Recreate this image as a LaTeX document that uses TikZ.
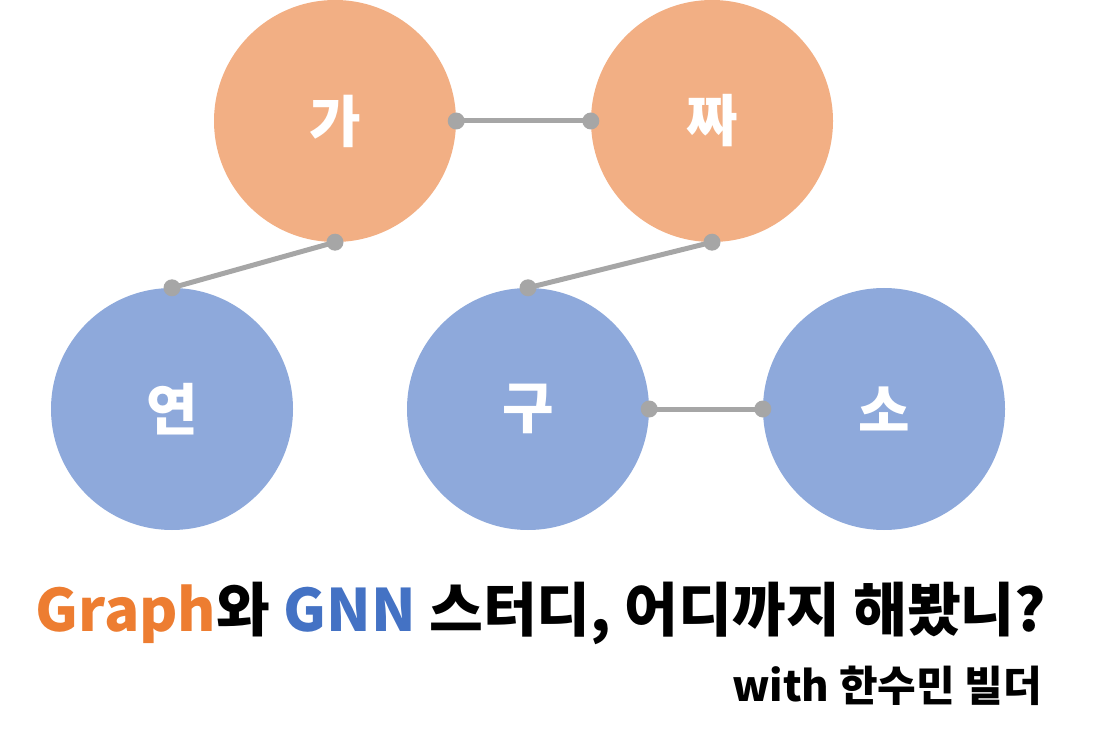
\documentclass[tikz,border=0pt]{standalone}
\usepackage{fontspec}
\setmainfont{Noto Sans CJK KR}
\usepackage{xcolor}
\usepackage{tikz}
\usetikzlibrary{calc}

\definecolor{peach}{HTML}{F2AF84}
\definecolor{skyblue}{HTML}{8EA9DB}
\definecolor{linegray}{HTML}{A6A6A6}
\definecolor{txtorange}{HTML}{ED7D31}
\definecolor{txtblue}{HTML}{4472C4}

\begin{document}
\begin{tikzpicture}[x=1pt,y=-1pt,
	vtx/.style={circle,minimum size=242pt,inner sep=0pt,text=white,font=\fontsize{56}{60}\selectfont\bfseries},
	link/.style={draw=linegray,line width=5pt}]
	\useasboundingbox (0,0) rectangle (1095,735);
	
	\node[vtx,fill=peach] (ga) at (335,121) {가};
	\node[vtx,fill=peach] (jja) at (712,121) {짜};
	\node[vtx,fill=skyblue] (yeon) at (172,409) {연};
	\node[vtx,fill=skyblue] (gu) at (528,409) {구};
	\node[vtx,fill=skyblue] (so) at (884,409) {소};
	
	\draw[link] (ga.east)--(jja.west);
	\draw[link] (ga.south)--(yeon.north);
	\draw[link] (jja.south)--(gu.north);
	\draw[link] (gu.east)--(so.west);
	\foreach \p in {ga.east,jja.west,ga.south,yeon.north,jja.south,gu.north,gu.east,so.west}{
		\fill[linegray] (\p) circle (8.5pt);
	}
	
	\node[anchor=base,font=\fontsize{58.5}{62}\selectfont\bfseries] (title) at (541,631)
		{\textcolor{txtorange}{Graph}와 \textcolor{txtblue}{GNN} 스터디, 어디까지 해봤니?};
	\node[anchor=base,font=\fontsize{42}{46}\selectfont\bfseries] (sub) at (887,701) {with 한수민 빌더};
\end{tikzpicture}
\end{document}
